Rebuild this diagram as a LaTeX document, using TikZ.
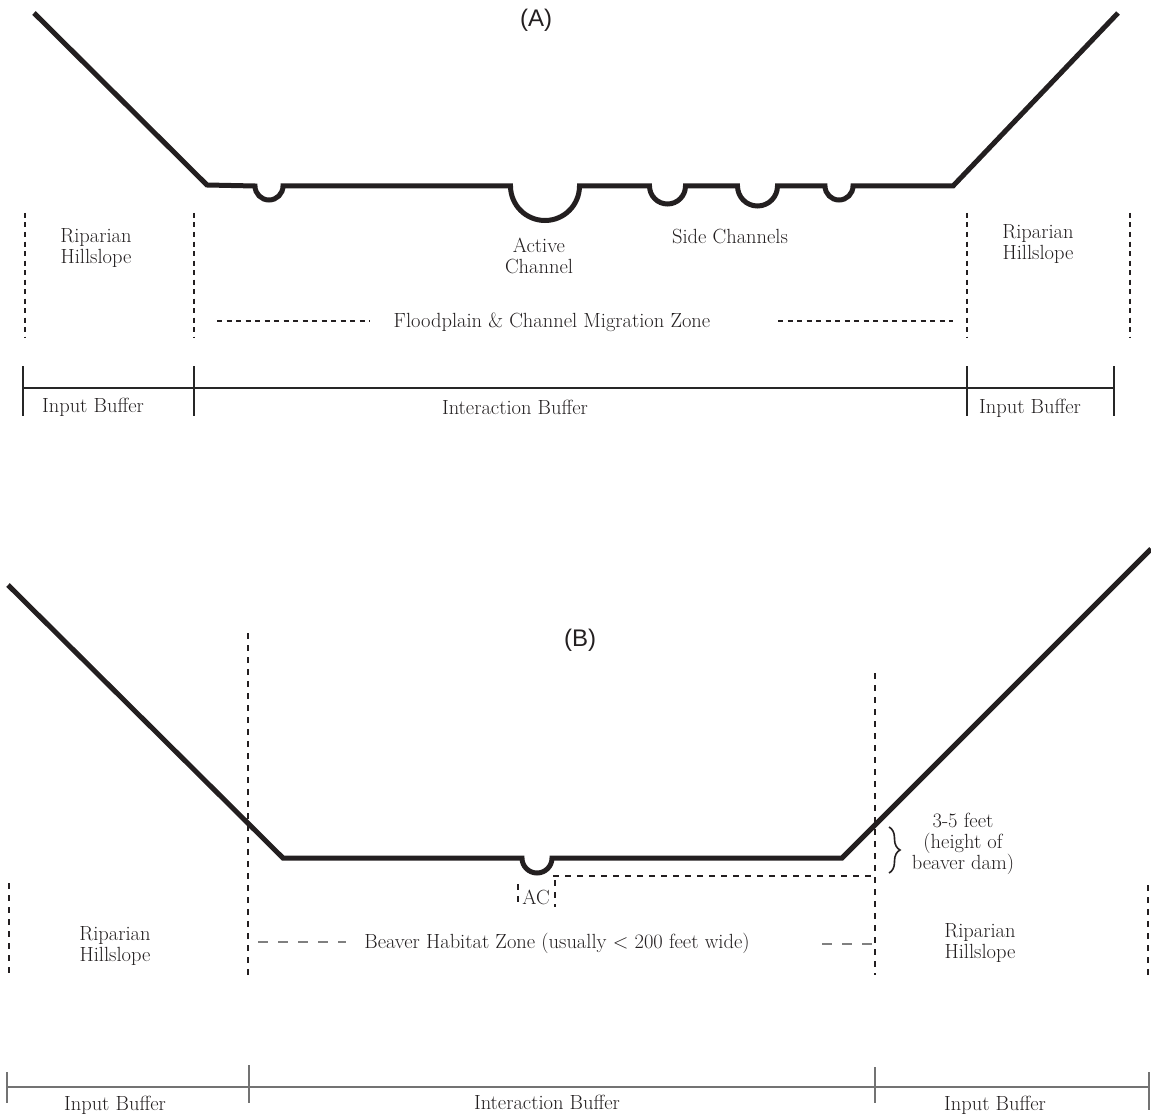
\documentclass[tikz,border=0pt]{standalone}
\usepackage{fontspec}
\newfontfamily\panelfont{Liberation Sans}
\usetikzlibrary{calc}
\usetikzlibrary{decorations.pathreplacing}
\definecolor{ink}{HTML}{231F20}
\tikzset{%
    ground/.style={draw=ink,line width=5pt,line join=miter},
    zone/.style={draw=ink,line width=1.3pt,dash pattern=on 5pt off 4.5pt},
    wide zone/.style={draw=ink,line width=1.2pt,dash pattern=on 6pt off 6pt},
    habitat/.style={draw=black!50,line width=1.5pt,dash pattern=on 10pt off 10pt},
    buffer/.style={draw=black!85,line width=1.3pt},
    buffer gray/.style={draw=black!55,line width=2pt},
    dam brace/.style={draw=ink,line width=1.6pt,decorate,decoration={brace,amplitude=11pt,aspect=0.5}},
    txt/.style={inner sep=0pt,align=center,text=ink,font=\fontsize{20.5}{20.5}\selectfont},
    panel/.style={inner sep=0pt,text=ink,font=\panelfont\fontsize{24}{26}\selectfont},
}

\begin{document}
\begin{tikzpicture}[x=1pt,y=-1pt]
        \useasboundingbox (0,0) rectangle (1151,1118);

        \draw[ground] (34,13) -- (207,185) -- (255,186)
            arc[start angle=180,end angle=0,radius=14] -- (510.5,186)
            arc[start angle=180,end angle=0,radius=34.5] -- (649.5,186)
            arc[start angle=180,end angle=0,radius=18] -- (737.5,186)
            arc[start angle=180,end angle=0,radius=20] -- (825,186)
            arc[start angle=180,end angle=0,radius=14] -- (953,186) -- (1118,13);

        \node[panel] (panelA) at (536,20) {(A)};

        \draw[zone] (25,213) -- (25,337);
        \draw[zone] (194,213) -- (194,337);
        \draw[zone] (967,213) -- (967,337);
        \draw[zone] (1130,213) -- (1130,337);
        \draw[zone] (217,321) -- (370,321);
        \draw[zone] (778,321) -- (953,321);

        \node[txt] (hillAL) at (96,248) {Riparian\\Hillslope};
        \node[txt] (hillAR) at (1038,244) {Riparian\\Hillslope};
        \node[txt] (active) at (539,256) {Active\\Channel};
        \node[txt] (side) at (730,236) {Side Channels};
        \node[txt] (flood) at (552,322) {Floodplain \& Channel Migration Zone};

        \draw[buffer] (23,388) -- (1114,388);
        \foreach \x in {23,194,967,1114}
            \draw[buffer] (\x,366) -- (\x,416);
        \node[txt] (inputAL) at (93,407) {Input Buffer};
        \node[txt] (interA) at (515,407) {Interaction Buffer};
        \node[txt] (inputAR) at (1030,408) {Input Buffer};

        \draw[ground] (8,585) -- (283,858) -- (522,858)
            arc[start angle=180,end angle=0,radius=15] -- (842,858) -- (1151,549);

        \node[panel] (panelB) at (580,640) {(B)};

        \draw[wide zone] (248,633) -- (248,975);
        \draw[wide zone] (875,673) -- (875,975);
        \draw[wide zone] (9,883) -- (9,976);
        \draw[wide zone] (1148,885) -- (1148,976);
        \draw[wide zone] (553,876) -- (875,876);
        \draw[wide zone] (518,884) -- (518,907);
        \draw[wide zone] (555,880) -- (555,907);
        \node[txt] (ac) at (536,897) {AC};

        \draw[habitat] (258,942) -- (346,942);
        \draw[habitat] (822,944) -- (873,944);
        \node[txt] (beaver) at (557,943) {Beaver Habitat Zone (usually \textless{} 200 feet wide)};

        \node[txt] (hillBL) at (115,946) {Riparian\\Hillslope};
        \node[txt] (hillBR) at (980,943) {Riparian\\Hillslope};

        \draw[dam brace] (889,827) coordinate (damtop) -- (889,873) coordinate (dambase);
        \node[txt,font=\fontsize{20.5}{21}\selectfont] (dam) at (963,844) {3-5 feet\\(height of\\beaver dam)};

        \draw[buffer gray] (7,1087) -- (1149,1087);
        \draw[buffer gray] (7,1072) -- (7,1103);
        \draw[buffer gray] (249,1065) -- (249,1103);
        \draw[buffer gray] (875,1067) -- (875,1103);
        \draw[buffer gray] (1149,1072) -- (1149,1110);
        \node[txt] (inputBL) at (115,1105) {Input Buffer};
        \node[txt] (interB) at (547,1102) {Interaction Buffer};
        \node[txt] (inputBR) at (995,1105) {Input Buffer};
      \end{tikzpicture}
\end{document}
